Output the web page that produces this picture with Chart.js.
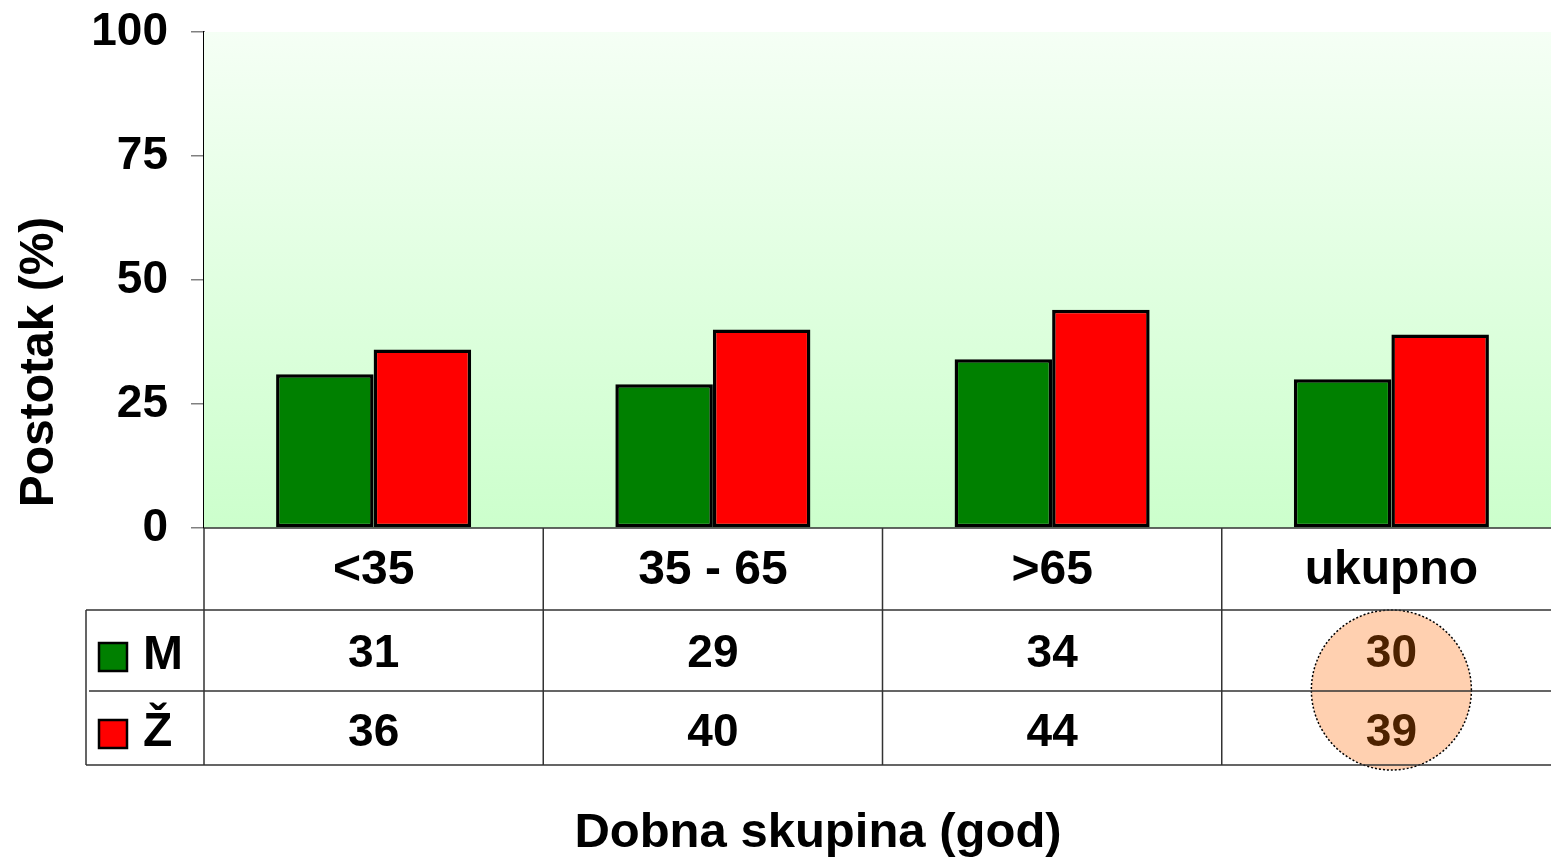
<!DOCTYPE html>
<html>
<head>
<meta charset="utf-8">
<script src="https://cdn.jsdelivr.net/npm/chart.js@4/dist/chart.umd.min.js"></script>
<style>
  html, body { margin: 0; padding: 0; background: #fff; overflow: hidden; }
  canvas { display: block; }
</style>
</head>
<body>
<canvas id="bars" width="1561" height="863"></canvas>
<script>
// data
const categories = ['<35', '35 - 65', '>65', 'ukupno'];
const seriesNames = ['M', 'Ž'];
const valuesM = [31, 29, 34, 30];
const valuesZ = [36, 40, 44, 39];
const seriesColors = ['#008000', '#ff0000'];
const yTitle = 'Postotak (%)';
const xTitle = 'Dobna skupina (god)';

const FONT = '"Liberation Sans", Arial, sans-serif';

// green gradient behind the bars
const plotBackground = {
  id: 'plotBackground',
  beforeDatasetsDraw(chart) {
    const { ctx, chartArea: a } = chart;
    const g = ctx.createLinearGradient(0, a.top, 0, a.bottom);
    g.addColorStop(0, '#f5fff5');
    g.addColorStop(1, '#ccffcc');
    ctx.save();
    ctx.fillStyle = g;
    ctx.fillRect(a.left, a.top, a.right - a.left, a.bottom - a.top);
    ctx.restore();
  }
};

// data table under the plot + axis titles
const dataTable = {
  id: 'dataTable',
  afterDraw(chart) {
    const { ctx, chartArea: a } = chart;
    const x = chart.scales.x;
    const colW = (x.right - x.left) / categories.length;
    const rows = [528, 610, 691, 765];
    const last = categories.length - 1;
    const cx = x.getPixelForValue(last);

    ctx.save();

    // highlight circle round the totals
    ctx.beginPath();
    ctx.arc(cx, 690, 80, 0, Math.PI * 2);
    ctx.fillStyle = '#ffd0b0';
    ctx.fill();
    ctx.setLineDash([2, 2]);
    ctx.lineWidth = 1.5;
    ctx.strokeStyle = '#000';
    ctx.stroke();
    ctx.setLineDash([]);

    // grid lines
    ctx.strokeStyle = '#333';
    ctx.lineWidth = 1.5;
    ctx.beginPath();
    ctx.moveTo(a.left, a.bottom); ctx.lineTo(a.right, a.bottom);
    ctx.moveTo(86, rows[1]); ctx.lineTo(a.right, rows[1]);
    ctx.moveTo(89, rows[2]); ctx.lineTo(a.right, rows[2]);
    ctx.moveTo(86, rows[3]); ctx.lineTo(a.right, rows[3]);
    ctx.moveTo(86, rows[1]); ctx.lineTo(86, rows[3]);
    for (let i = 0; i < categories.length; i++) {
      const left = x.getPixelForValue(i) - colW / 2;
      ctx.moveTo(left, rows[0]); ctx.lineTo(left, rows[3]);
    }
    ctx.stroke();

    // text
    ctx.textAlign = 'center';
    ctx.textBaseline = 'middle';
    categories.forEach((c, i) => {
      const px = x.getPixelForValue(i);
      ctx.font = 'bold 48px ' + FONT;
      ctx.fillStyle = '#000';
      ctx.fillText(c, px, 571);
      ctx.font = 'bold 46px ' + FONT;
      ctx.fillStyle = i === last ? '#4d2200' : '#000';
      ctx.fillText(String(valuesM[i]), px, 654);
      ctx.fillText(String(valuesZ[i]), px, 733);
    });

    // legend keys
    ctx.font = 'bold 48px ' + FONT;
    [[643, 656], [720, 733]].forEach(([top, ty], i) => {
      ctx.fillStyle = seriesColors[i];
      ctx.fillRect(99, top, 28, 28);
      ctx.lineWidth = 2.5;
      ctx.strokeStyle = '#000';
      ctx.strokeRect(99, top, 28, 28);
      ctx.fillStyle = '#000';
      ctx.textAlign = 'left';
      ctx.fillText(seriesNames[i], 143, ty);
    });

    // axis titles
    ctx.font = 'bold 49px ' + FONT;
    ctx.textAlign = 'center';
    ctx.fillText(xTitle, 818, 833);
    ctx.font = 'bold 48px ' + FONT;
    ctx.translate(40, 362);
    ctx.rotate(-Math.PI / 2);
    ctx.fillText(yTitle, 0, 0);

    ctx.restore();
  }
};

const barConfig = {
  type: 'bar',
  data: {
    labels: categories,
    datasets: [
      { label: seriesNames[0], data: valuesM, backgroundColor: seriesColors[0] },
      { label: seriesNames[1], data: valuesZ, backgroundColor: seriesColors[1] }
    ].map(d => Object.assign(d, {
      borderColor: '#000',
      borderWidth: 3.5,
      borderSkipped: false,
      categoryPercentage: 0.575,
      barPercentage: 1.0
    }))
  },
  options: {
    responsive: false,
    animation: false,
    layout: { padding: { top: 32, right: 0, left: 0, bottom: 0 } },
    plugins: {
      legend: { display: false },
      tooltip: { enabled: false }
    },
    scales: {
      x: {
        grid: { display: false },
        border: { display: false },
        ticks: { display: false },
        afterFit(scale) { scale.height = 335; }
      },
      y: {
        min: 0,
        max: 100,
        ticks: {
          stepSize: 25,
          color: '#000',
          padding: 23,
          font: { family: FONT, size: 46, weight: 'bold' }
        },
        grid: { drawOnChartArea: false, tickLength: 13, color: '#808080', lineWidth: 1.5 },
        border: { display: true, color: '#000', width: 1.5 },
        afterFit(scale) {
          scale.width = 204;
          scale.paddingTop = 0;
          scale.paddingBottom = 0;
        }
      }
    }
  },
  plugins: [plotBackground, dataTable]
};

window.myBars = new Chart(document.getElementById('bars'), barConfig);
</script>
</body>
</html>
